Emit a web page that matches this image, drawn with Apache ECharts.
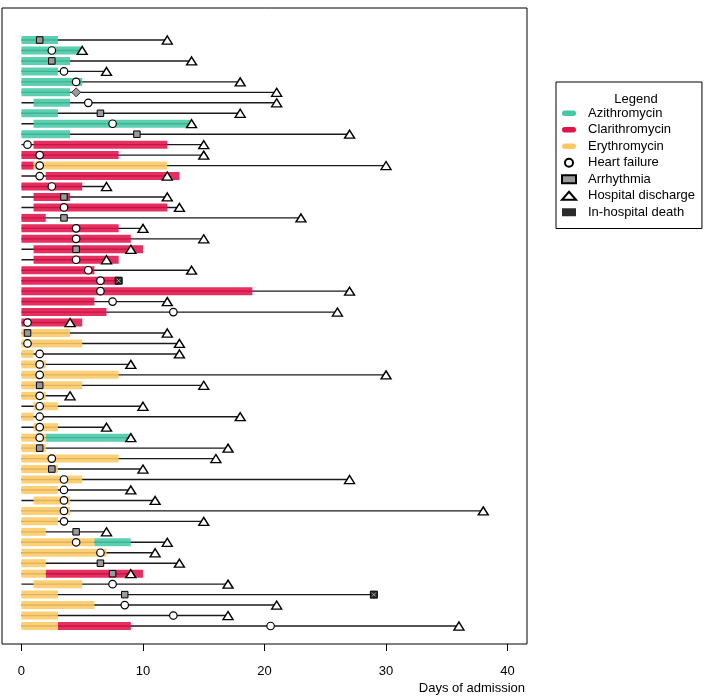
<!DOCTYPE html>
<html>
<head>
<meta charset="utf-8">
<script src="https://cdn.jsdelivr.net/npm/echarts@6/dist/echarts.min.js"></script>
<style>
html,body{margin:0;padding:0;background:#fff;}
#main{width:709px;height:696px;}
</style>
</head>
<body>
<div id="main"></div>
<script>
// 每行: [行号, 开始天, 结束天]
var azithromycin = [[1,0,3],[2,0,5],[3,0,4],[4,0,3],[5,0,5],[6,0,4],[7,1,4],[8,0,3],[9,1,14],[10,0,4],[39,2,9],[49,6,9]];
var clarithromycin = [[11,1,12],[12,0,8],[13,0,1],[14,2,13],[15,0,5],[16,1,4],[17,1,12],[18,0,2],[19,0,8],[20,0,9],
    [21,1,10],[22,1,8],[23,0,6],[24,0,8],[25,0,19],[26,0,6],[27,0,7],[28,0,5],[52,2,10],[57,3,9]];
var erythromycin = [[13,1,12],[29,0,4],[30,0,5],[31,0,1],[32,0,2],[33,0,8],[34,0,5],[35,0,2],[36,1,3],[37,0,1],[38,1,3],
    [39,0,2],[40,0,2],[41,0,8],[42,0,3],[43,0,5],[44,0,3],[45,1,4],[46,0,4],[47,0,3],[48,0,2],[49,0,6],[50,0,7],
    [51,0,2],[52,0,2],[53,1,5],[54,0,3],[55,0,6],[56,0,3],[57,0,3]];

// 事件: [行号, 天]
var heartFailure = [[2,2.5],[4,3.5],[5,4.5],[7,5.5],[9,7.5],[11,0.5],[12,1.5],[13,1.5],[14,1.5],[15,2.5],[17,3.5],
    [19,4.5],[20,4.5],[22,4.5],[23,5.5],[24,6.5],[25,6.5],[26,7.5],[27,12.5],[28,0.5],[30,0.5],[31,1.5],[32,1.5],
    [33,1.5],[35,1.5],[36,1.5],[37,1.5],[38,1.5],[39,1.5],[41,2.5],[43,3.5],[44,3.5],[45,3.5],[46,3.5],[47,3.5],
    [49,4.5],[50,6.5],[53,7.5],[55,8.5],[56,12.5],[57,20.5]];
var arrhythmia = [[1,1.5],[3,2.5],[8,6.5],[10,9.5],[16,3.5],[18,3.5],[21,4.5],[29,0.5],[34,1.5],[40,1.5],[42,2.5],
    [48,4.5],[51,6.5],[52,7.5],[54,8.5]];
var otherEvent = [[6,4.5]];
var discharge = [[1,12],[2,5],[3,14],[4,7],[5,18],[6,21],[7,21],[8,18],[9,14],[10,27],[11,15],[12,15],[13,30],[14,12],
    [15,7],[16,12],[17,13],[18,23],[19,10],[20,15],[21,9],[22,7],[23,14],[25,27],[26,12],[27,26],[28,4],[29,12],
    [30,13],[31,13],[32,9],[33,30],[34,15],[35,4],[36,10],[37,18],[38,7],[39,9],[40,17],[41,16],[42,10],[43,27],
    [44,9],[45,11],[46,38],[47,15],[48,7],[49,12],[50,11],[51,13],[52,9],[53,17],[55,21],[56,17],[57,36]];
var death = [[24,8],[54,29]];

var xTicks = [0,10,20,30,40];

var colors = {azi:'#45c8a6', cla:'#e0124a', ery:'#fdc864'};
var font = 'Liberation Sans, Arial, sans-serif';

// 随访线: 从0到出院/死亡
var followLine = discharge.concat(death).map(function(d){ return [d[0], 0, d[1]]; });

function renderSeg(params, api){
    var row = api.value(0);
    var p1 = api.coord([api.value(1), row]);
    var p2 = api.coord([api.value(2), row]);
    var h = 8;
    return {type:'rect', shape:{x:p1[0], y:p1[1]-h/2, width:p2[0]-p1[0], height:h},
        style:{fill:api.visual('color'), opacity:0.88}};
}

function renderLine(params, api){
    var row = api.value(0);
    var p1 = api.coord([api.value(1), row]);
    var p2 = api.coord([api.value(2), row]);
    return {type:'line', shape:{x1:p1[0], y1:p1[1], x2:p2[0], y2:p2[1]},
        style:{stroke:'#1a1a1a', lineWidth:1.4}};
}

function renderDeath(params, api){
    var p = api.coord([api.value(1), api.value(0)]);
    var s = 3.5;
    return {type:'group', children:[
        {type:'rect', shape:{x:p[0]-s, y:p[1]-s, width:2*s, height:2*s}, style:{fill:'#2a2a2a', stroke:'#000', lineWidth:1}},
        {type:'line', shape:{x1:p[0]-2, y1:p[1]-2, x2:p[0]+2, y2:p[1]+2}, style:{stroke:'#bbb', lineWidth:0.8}},
        {type:'line', shape:{x1:p[0]+2, y1:p[1]-2, x2:p[0]-2, y2:p[1]+2}, style:{stroke:'#bbb', lineWidth:0.8}}
    ]};
}

var pill = 'path://M2.5,0H10.5A2.5,2.5,0,0,1,10.5,5H2.5A2.5,2.5,0,0,1,2.5,0Z';

var option = {
    animation:false,
    backgroundColor:'#fff',
    title:{text:'Legend', left:631, top:88, textAlign:'center',
        textStyle:{fontFamily:font, fontSize:13, fontWeight:'normal', color:'#000'}},
    legend:{
        orient:'vertical', left:556, top:82,
        padding:[23,7,8,5], itemGap:0,
        borderColor:'#000', borderWidth:1,
        itemWidth:14, itemHeight:8,
        textStyle:{fontFamily:font, fontSize:13, color:'#000', lineHeight:16.5, padding:[0,0,0,7]},
        data:[
            {name:'Azithromycin', icon:pill},
            {name:'Clarithromycin', icon:pill},
            {name:'Erythromycin', icon:pill},
            {name:'Heart failure', icon:'circle'},
            {name:'Arrhythmia', icon:'rect'},
            {name:'Hospital discharge', icon:'triangle'},
            {name:'In-hospital death', icon:'rect'}
        ]
    },
    grid:{left:2, right:182, top:8, bottom:52, show:true, borderColor:'#000', borderWidth:1, containLabel:false},
    xAxis:{type:'value', min:-1.6, max:41.6, position:'bottom',
        axisLine:{show:false, onZero:false},
        axisTick:{show:true, length:7, customValues:xTicks, lineStyle:{color:'#000'}},
        axisLabel:{customValues:xTicks, margin:21, fontFamily:font, fontSize:13, color:'#000'},
        splitLine:{show:false}},
    yAxis:{type:'value', inverse:true, min:-2.06, max:58.72, show:false},
    graphic:[{type:'text', right:184, top:682,
        style:{text:'Days of admission', fontFamily:font, fontSize:13, fill:'#000'}}],
    series:[
        {name:'followup', type:'custom', renderItem:renderLine, data:followLine, z:1, silent:true},
        {name:'Azithromycin', type:'custom', renderItem:renderSeg, data:azithromycin, itemStyle:{color:colors.azi}, encode:{x:[1,2], y:0}, z:2},
        {name:'Clarithromycin', type:'custom', renderItem:renderSeg, data:clarithromycin, itemStyle:{color:colors.cla}, encode:{x:[1,2], y:0}, z:2},
        {name:'Erythromycin', type:'custom', renderItem:renderSeg, data:erythromycin, itemStyle:{color:colors.ery}, encode:{x:[1,2], y:0}, z:2},
        {name:'Heart failure', type:'scatter', data:heartFailure.map(function(d){return [d[1], d[0]];}),
            symbol:'circle', symbolSize:7.5, itemStyle:{color:'#fff', borderColor:'#000', borderWidth:1.2, opacity:1}, z:5},
        {name:'Arrhythmia', type:'scatter', data:arrhythmia.map(function(d){return [d[1], d[0]];}),
            symbol:'rect', symbolSize:6.5, itemStyle:{color:'#9a9a9a', borderColor:'#000', borderWidth:1, opacity:1}, z:5},
        {name:'other', type:'scatter', data:otherEvent.map(function(d){return [d[1], d[0]];}),
            symbol:'diamond', symbolSize:[9,9], itemStyle:{color:'#9a9a9a', borderColor:'#333', borderWidth:1, opacity:1}, z:5},
        {name:'Hospital discharge', type:'scatter', data:discharge.map(function(d){return [d[1], d[0]];}),
            symbol:'triangle', symbolSize:[10,8], itemStyle:{color:'#fff', borderColor:'#000', borderWidth:1.4, opacity:1}, z:5},
        {name:'In-hospital death', type:'custom', renderItem:renderDeath, data:death, itemStyle:{color:'#2a2a2a'}, z:6}
    ]
};

var chart = echarts.init(document.getElementById('main'));
chart.setOption(option);
</script>
</body>
</html>
